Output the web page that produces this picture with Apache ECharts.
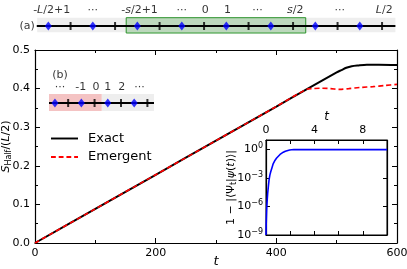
<!DOCTYPE html>
<html><head><meta charset="utf-8">
<script src="https://cdn.jsdelivr.net/npm/echarts@6/dist/echarts.min.js"></script>
<style>html,body{margin:0;padding:0;background:#fff}#c{width:407px;height:269px}</style>
</head><body><div id="c"></div>
<script>
// Main curves
const exactT = [0, 100, 200, 300, 400, 450, 500, 508, 516, 525, 535, 550, 570, 600];
const exactS = [0, 0.0884, 0.1768, 0.2652, 0.3536, 0.398, 0.442, 0.448, 0.454, 0.458, 0.460, 0.462, 0.462, 0.461];
const emergT = [0, 100, 200, 300, 400, 450, 460, 475, 490, 505, 520, 540, 560, 580, 600];
const emergS = [0, 0.0884, 0.1768, 0.2652, 0.3536, 0.398, 0.400, 0.401, 0.400, 0.398, 0.400, 0.403, 0.405, 0.408, 0.411];
// Inset curve
const insetT = [0, 0.02, 0.055, 0.1, 0.14, 0.2, 0.25, 0.32, 0.39, 0.5, 0.6, 0.75, 0.88, 1.0, 1.16, 1.3, 1.43, 1.6, 1.76, 1.95, 2.12, 2.3, 2.5, 2.8, 3.1, 3.5, 4, 5, 6, 7, 8, 9, 10];
const insetV = [1e-9, 2e-8, 5e-7, 5e-6, 2.5e-5, 1.5e-4, 6e-4, 2e-3, 4.5e-3, 1.3e-2, 0.033, 0.075, 0.126, 0.19, 0.30, 0.41, 0.52, 0.66, 0.79, 0.89, 0.95, 0.98, 0.99, 0.98, 0.97, 0.97, 0.98, 0.97, 0.98, 0.97, 0.98, 0.98, 0.98];
// Schematic (a)
const aDiamonds = [0, 2, 4, 6, 8, 10, 12, 14];
const aTicks = [1, 3, 5, 7, 9, 11, 13, 15];
const aLabels = ['-{i|L}/2+1', '···', '-{i|s}/2+1', '···', '0', '1', '···', '{i|s}/2', '···', '{i|L}/2'];
const aLabelPos = [0.15, 2, 4.1, 6, 7.05, 8.05, 9.4, 11.1, 13.1, 15.1];
// Schematic (b)
const bDiamonds = [0, 2, 4, 6];
const bTicks = [1, 3, 5, 7];
const bLabels = ['···', '-1', '0', '1', '2', '···'];
const bLabelPos = [0.38, 1.95, 3.1, 4.0, 5.05, 6.4];

const FONT = 'DejaVu Sans';
const zip = (a, b) => a.map((v, i) => [v, b[i]]);
const richBase = {
  i: {fontStyle: 'italic', fontFamily: FONT, fontSize: 11, color: '#000'},
  sub: {fontFamily: FONT, fontSize: 8, padding: [6, 0, 0, 0], color: '#000'},
  sup: {fontFamily: FONT, fontSize: 8, padding: [0, 0, 7, 0], color: '#000'}
};
function labelSeries(xi, yi, pos, texts, y) {
  return {
    type: 'scatter', xAxisIndex: xi, yAxisIndex: yi, symbolSize: 1, clip: false, z: 10,
    itemStyle: {color: 'rgba(0,0,0,0)'}, silent: true,
    data: pos.map((p, i) => ({value: [p, y], name: texts[i]})),
    label: {show: true, position: 'inside', color: '#000', fontFamily: FONT, fontSize: 11,
      formatter: p => p.data.name, rich: richBase}
  };
}
const tickStyle = {inside: true, length: 5, lineStyle: {color: '#000', width: 1}};
const minorStyle = {show: true, splitNumber: 2, length: 3, lineStyle: {color: '#000', width: 1}};
const axLine = {show: true, onZero: false, lineStyle: {color: '#000', width: 1.2}};

const chart = echarts.init(document.getElementById('c'), null, {renderer: 'canvas'});
chart.setOption({
  animation: false,
  backgroundColor: '#fff',
  textStyle: {fontFamily: FONT},
  grid: [
    {left: 35, top: 50, width: 362, height: 193, outerBoundsMode: 'none', containLabel: false},
    {left: 37.2, top: 3, width: 358.2, height: 30, outerBoundsMode: 'none', containLabel: false},
    {left: 49, top: 68, width: 105, height: 43, outerBoundsMode: 'none', containLabel: false},
    {left: 266, top: 140, width: 121, height: 95, outerBoundsMode: 'none', containLabel: false,
      show: true, backgroundColor: '#fff', borderColor: '#000', borderWidth: 1, z: 5}
  ],
  xAxis: [
    {gridIndex: 0, type: 'value', min: 0, max: 600, interval: 200, position: 'bottom',
      axisLine: axLine, axisTick: tickStyle, minorTick: minorStyle, splitLine: {show: false},
      axisLabel: {color: '#000', fontSize: 11, margin: 5, fontFamily: FONT},
      name: 't', nameLocation: 'middle', nameGap: 12, nameMoveOverlap: false,
      nameTextStyle: {fontStyle: 'italic', fontSize: 13, color: '#000', fontFamily: FONT}},
    {gridIndex: 0, type: 'value', min: 0, max: 600, interval: 200, position: 'top',
      axisLine: axLine, axisTick: tickStyle, minorTick: minorStyle, splitLine: {show: false},
      axisLabel: {show: false}},
    {gridIndex: 1, type: 'value', min: -0.5, max: 15.6, show: false},
    {gridIndex: 2, type: 'value', min: -0.45, max: 7.5, show: false},
    {gridIndex: 3, type: 'value', min: 0, max: 10, interval: 2, position: 'top', z: 6,
      axisLine: axLine, axisTick: {inside: true, length: 4, lineStyle: {color: '#000'}}, splitLine: {show: false},
      axisLabel: {color: '#000', fontSize: 11, margin: 4, fontFamily: FONT,
        formatter: v => (v % 4 === 0 && v < 10) ? String(v) : ''},
      name: 't', nameLocation: 'middle', nameGap: 17, nameMoveOverlap: false,
      nameTextStyle: {fontStyle: 'italic', fontSize: 12, color: '#000', fontFamily: FONT}},
    {gridIndex: 3, type: 'value', min: 0, max: 10, interval: 2, position: 'bottom', z: 6,
      axisLine: axLine, axisTick: {inside: true, length: 4, lineStyle: {color: '#000'}}, splitLine: {show: false},
      axisLabel: {show: false}}
  ],
  yAxis: [
    {gridIndex: 0, type: 'value', min: 0, max: 0.5, interval: 0.1, position: 'left',
      axisLine: axLine, axisTick: tickStyle, minorTick: minorStyle, splitLine: {show: false},
      axisLabel: {color: '#000', fontSize: 11, margin: 5, fontFamily: FONT, formatter: v => v.toFixed(1)},
      name: '{i|S}{sub|Half}/({i|L}/2)', nameLocation: 'middle', nameRotate: 90, nameGap: 22, nameMoveOverlap: false,
      nameTextStyle: {fontSize: 11, color: '#000', fontFamily: FONT, rich: richBase}},
    {gridIndex: 0, type: 'value', min: 0, max: 0.5, interval: 0.1, position: 'right',
      axisLine: axLine, axisTick: tickStyle, minorTick: minorStyle, splitLine: {show: false},
      axisLabel: {show: false}},
    {gridIndex: 1, type: 'value', min: 0, max: 1, show: false},
    {gridIndex: 2, type: 'value', min: 0, max: 1, show: false},
    {gridIndex: 3, type: 'log', logBase: 10, min: 1e-9, max: 10, interval: 3, position: 'left', z: 6,
      axisLine: axLine, axisTick: {inside: true, length: 4, lineStyle: {color: '#000'}}, splitLine: {show: false},
      minorTick: {show: false},
      axisLabel: {color: '#000', fontSize: 11, margin: 3, fontFamily: FONT, showMaxLabel: false,
        formatter: v => { const e = Math.round(Math.log10(v)); return e > 0 ? '' : '10{sup|' + (e < 0 ? '\u2212' + (-e) : e) + '}'; },
        rich: {sup: {fontSize: 8, fontFamily: FONT, color: '#000', padding: [0, 0, 7, 0]}}},
      name: '1 \u2212 |\u27E8\u03A8{sub|t}|{i|\u03C8}({i|t})\u27E9|', nameLocation: 'middle', nameRotate: 90, nameGap: 28, nameMoveOverlap: false,
      nameTextStyle: {fontSize: 11, color: '#000', fontFamily: FONT, rich: richBase}},
    {gridIndex: 3, type: 'log', logBase: 10, min: 1e-9, max: 10, interval: 3, position: 'right', z: 6,
      axisLine: axLine, axisTick: {inside: true, length: 4, lineStyle: {color: '#000'}}, splitLine: {show: false},
      axisLabel: {show: false}}
  ],
  legend: {
    show: true, orient: 'vertical', left: 46, top: 127, itemWidth: 27, itemHeight: 2, itemGap: 5.5,
    textStyle: {fontSize: 13, color: '#000', fontFamily: FONT, padding: [0, 0, 0, 5]},
    data: [
      {name: 'Exact', icon: 'path://M0,0h28v2h-28z'},
      {name: 'Emergent', icon: 'path://M0,0h5v2h-5z M8,0h5v2h-5z M16,0h5v2h-5z M24,0h4v2h-4z'}
    ]
  },
  series: [
    {name: 'Exact', type: 'line', xAxisIndex: 0, yAxisIndex: 0, data: zip(exactT, exactS), symbol: 'none',
      smooth: 0.3, lineStyle: {color: '#000', width: 2}, itemStyle: {color: '#000'}, z: 3},
    {name: 'Emergent', type: 'line', xAxisIndex: 0, yAxisIndex: 0, data: zip(emergT, emergS), symbol: 'none',
      smooth: 0.3, lineStyle: {color: '#ff0000', width: 1.6, type: [5, 3]}, itemStyle: {color: '#ff0000'}, z: 4},
    // inset
    {name: 'inset', type: 'line', xAxisIndex: 4, yAxisIndex: 4, data: zip(insetT, insetV), symbol: 'none',
      lineStyle: {color: '#0000ff', width: 1.6}, z: 7},
    // schematic (a)
    {type: 'line', xAxisIndex: 2, yAxisIndex: 2, data: [[-0.52, 0.233], [15.6, 0.233]], symbol: 'none',
      lineStyle: {color: '#000', width: 2}, z: 5,
      markArea: {silent: true, data: [
        [{coord: [-0.52, 0.023], itemStyle: {color: '#eeeeee'}}, {coord: [15.6, 0.51]}],
        [{coord: [3.5, 0], itemStyle: {color: 'rgba(60,160,60,0.28)', borderColor: '#2a922a', borderWidth: 1}}, {coord: [11.57, 0.51]}]
      ]}},
    {type: 'scatter', xAxisIndex: 2, yAxisIndex: 2, data: aTicks.map(k => [k, 0.233]), symbol: 'rect',
      symbolSize: [2, 8], itemStyle: {color: '#000'}, z: 6, clip: false},
    {type: 'scatter', xAxisIndex: 2, yAxisIndex: 2, data: aDiamonds.map(k => [k, 0.233]), symbol: 'diamond',
      symbolSize: [7, 9], itemStyle: {color: '#0000ff'}, z: 7, clip: false},
    labelSeries(2, 2, aLabelPos, aLabels, 0.767),
    labelSeries(2, 2, [-0.95], ['(a)'], 0.233),
    // schematic (b)
    {type: 'line', xAxisIndex: 3, yAxisIndex: 3, data: [[-0.45, 0.186], [7.5, 0.186]], symbol: 'none',
      lineStyle: {color: '#000', width: 2}, z: 5,
      markArea: {silent: true, data: [
        [{coord: [3.54, 0], itemStyle: {color: '#eeeeee'}}, {coord: [7.5, 0.395]}],
        [{coord: [-0.45, 0], itemStyle: {color: '#f4c3c3'}}, {coord: [3.54, 0.395]}]
      ]}},
    {type: 'scatter', xAxisIndex: 3, yAxisIndex: 3, data: bTicks.map(k => [k, 0.186]), symbol: 'rect',
      symbolSize: [2, 8], itemStyle: {color: '#000'}, z: 6, clip: false},
    {type: 'scatter', xAxisIndex: 3, yAxisIndex: 3, data: bDiamonds.map(k => [k, 0.186]), symbol: 'diamond',
      symbolSize: [7, 9], itemStyle: {color: '#0000ff'}, z: 7, clip: false},
    labelSeries(3, 3, bLabelPos, bLabels, 0.558),
    labelSeries(3, 3, [0.38], ['(b)'], 0.837)
  ]
});
</script></body></html>
